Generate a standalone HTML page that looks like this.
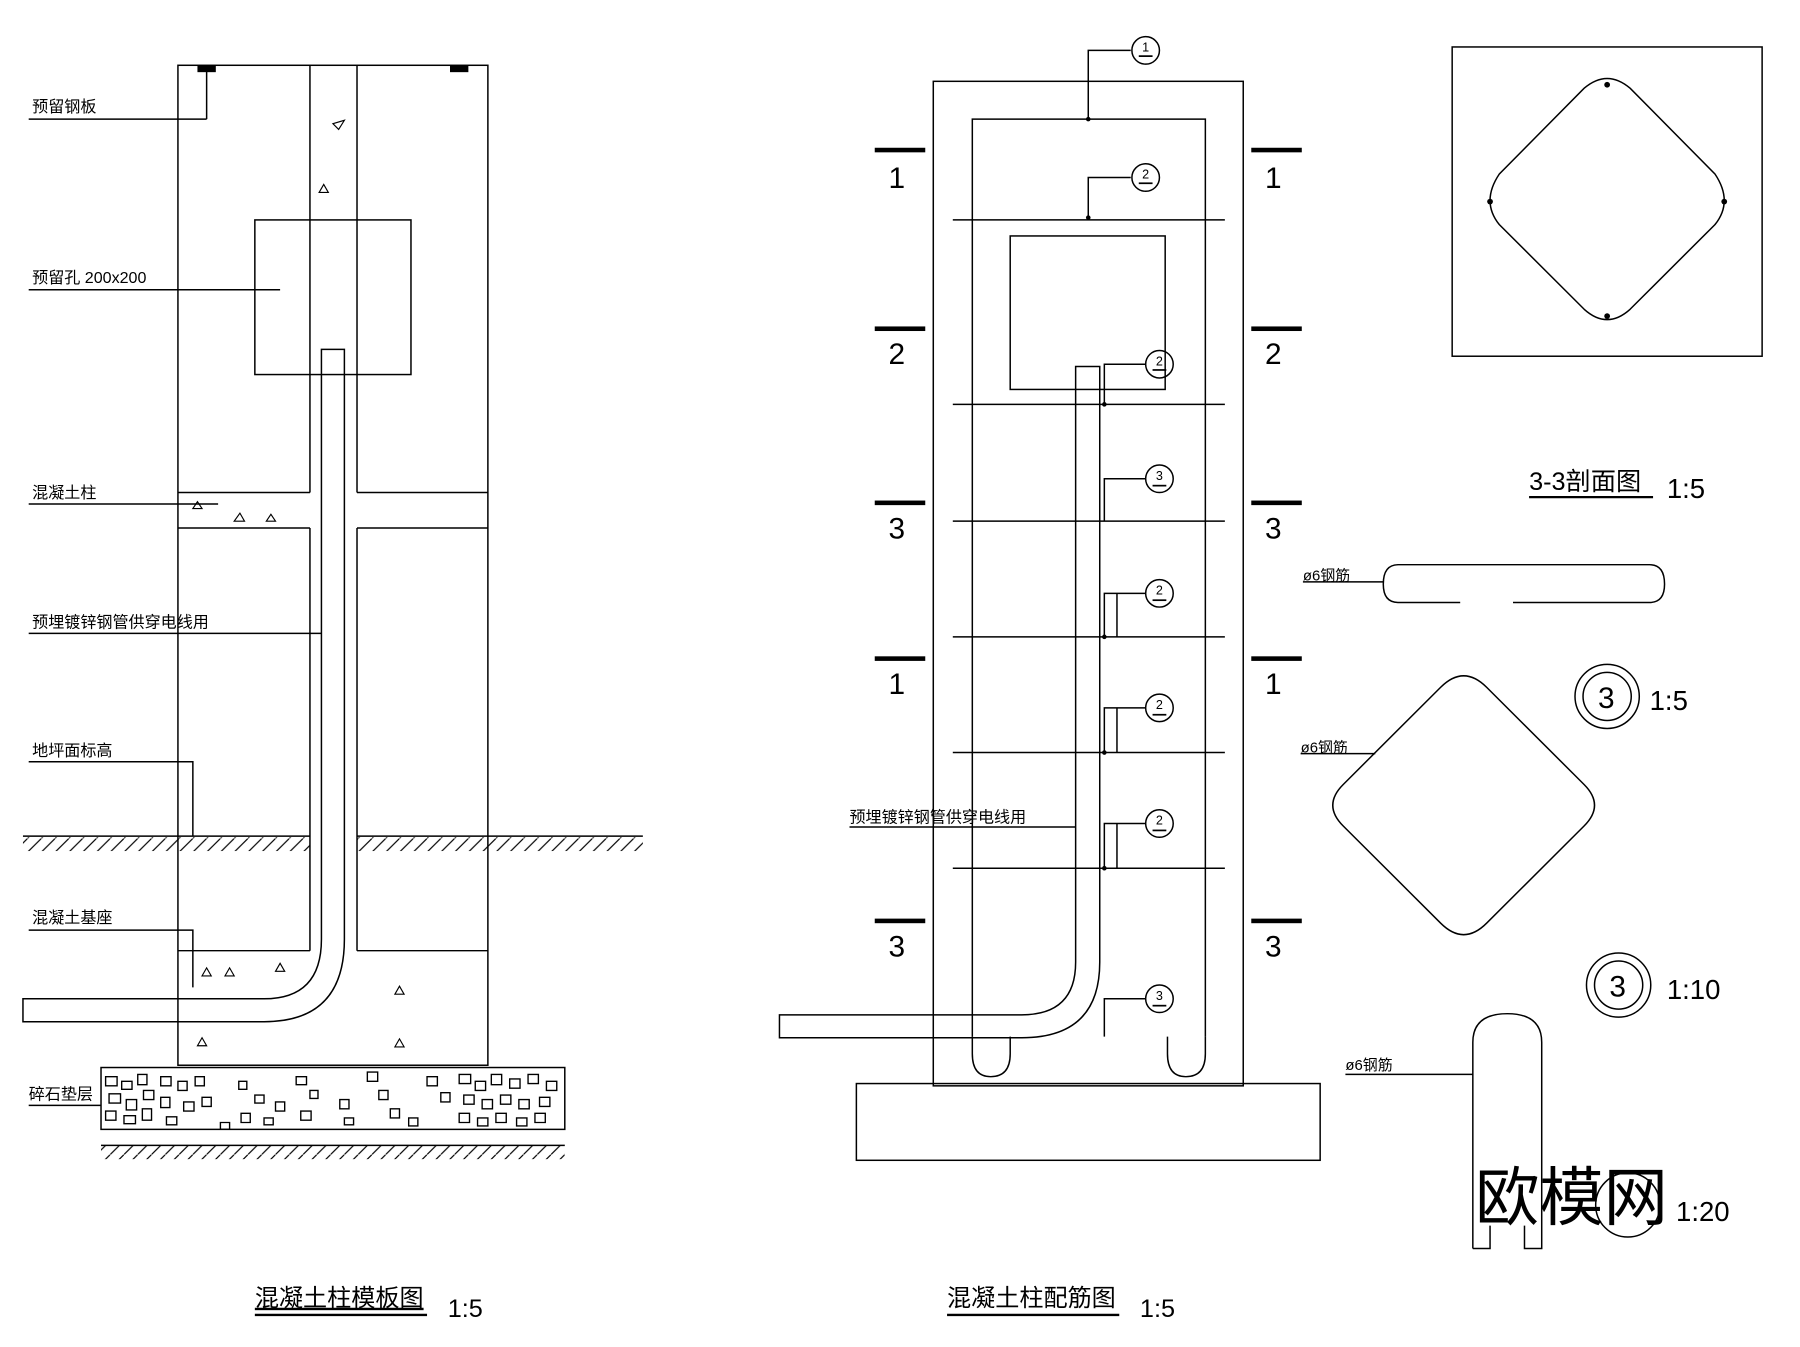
<!DOCTYPE html>
<html><head><meta charset="utf-8"><style>
html,body{margin:0;padding:0;background:#fff;}
svg{display:block}
text{font-family:"Liberation Sans","Noto Sans CJK SC",sans-serif;fill:#000}
</style></head><body>
<svg width="1800" height="1347" viewBox="0 0 1568 1176" preserveAspectRatio="none" xmlns="http://www.w3.org/2000/svg">
<defs>
<pattern id="h" width="12" height="12" patternUnits="userSpaceOnUse"><path d="M0 12 L12 0" stroke="#000" stroke-width="1"/></pattern>
</defs>
<g stroke="#000" stroke-width="1.3" fill="none">
<!-- LEFT -->
<rect x="155" y="57" width="270" height="873"/>
<line x1="270" y1="57" x2="270" y2="430"/><line x1="311" y1="57" x2="311" y2="430"/>
<line x1="270" y1="461" x2="270" y2="830"/><line x1="311" y1="461" x2="311" y2="830"/>
<line x1="155" y1="430" x2="270" y2="430"/><line x1="311" y1="430" x2="425" y2="430"/>
<line x1="155" y1="461" x2="270" y2="461"/><line x1="311" y1="461" x2="425" y2="461"/>
<line x1="155" y1="830" x2="270" y2="830"/><line x1="311" y1="830" x2="425" y2="830"/>
<rect x="222" y="192" width="136" height="135"/>
<path d="M280 305 H300 V820 Q300 892 230 892 H20 V872 H230 Q280 872 280 820 Z"/>
<line x1="20" y1="730" x2="270" y2="730"/><line x1="311" y1="730" x2="560" y2="730"/>
<rect x="20" y="731" width="250" height="12" fill="url(#h)" stroke="none"/>
<rect x="311" y="731" width="249" height="12" fill="url(#h)" stroke="none"/>
<rect x="88" y="932" width="404" height="54" fill="none"/>
<rect x="88" y="1000" width="404" height="12" fill="url(#h)" stroke="none"/>
<line x1="88" y1="1000" x2="492" y2="1000"/>
<!-- leaders left -->
<line x1="25" y1="104" x2="180" y2="104"/><line x1="180" y1="104" x2="180" y2="60"/>
<line x1="25" y1="253" x2="244" y2="253"/>
<line x1="25" y1="440" x2="190" y2="440"/>
<line x1="25" y1="553" x2="280" y2="553"/>
<polyline points="25,665 168,665 168,730"/>
<polyline points="25,812 168,812 168,862"/>
<line x1="25" y1="965" x2="88" y2="965"/>
</g>
<rect x="172" y="57" width="16" height="6" fill="#000"/><rect x="392" y="57" width="16" height="6" fill="#000"/>
<g fill="#000" font-size="13">
<path d="M290 108 l10 -3 l-5 8z" fill="none" stroke="#000"/>
<path d="M278 168 l8 0 l-4 -7z" fill="none" stroke="#000"/>
<path d="M168 444 l8 0 l-4 -6z M204 455 l9 0 l-4 -7z M232 455 l8 0 l-4 -6z M176 852 l8 0 l-4 -7z M196 852 l8 0 l-4 -7z M240 848 l8 0 l-4 -7z M344 868 l8 0 l-4 -7z M344 914 l8 0 l-4 -7z M172 913 l8 0 l-4 -7z" fill="none" stroke="#000"/>
</g>
<g fill="none" stroke="#000" stroke-width="1.2">
<path d="M92 940h10v8h-10z M106 944h9v7h-9z M120 938h8v9h-8z M95 955h10v8h-10z M110 960h9v9h-9z M125 952h9v8h-9z M92 970h9v8h-9z M108 974h10v7h-10z M124 968h8v10h-8z M140 940h9v8h-9z M155 944h8v8h-8z M140 958h8v9h-8z M160 962h9v8h-9z M145 975h9v7h-9z M170 940h8v8h-8z M176 958h8v8h-8z M208 944h7v7h-7z M222 956h8v7h-8z M210 972h8v8h-8z M240 962h8v8h-8z M258 940h9v7h-9z M270 952h7v7h-7z M262 970h9v8h-9z M296 960h8v8h-8z M320 936h9v8h-9z M330 952h8v8h-8z M340 968h8v8h-8z M356 976h8v7h-8z M372 940h9v8h-9z M384 954h8v8h-8z M400 938h10v8h-10z M414 944h9v8h-9z M428 938h9v9h-9z M444 942h9v8h-9z M460 938h9v8h-9z M476 944h9v8h-9z M404 956h9v8h-9z M420 960h9v8h-9z M436 956h9v8h-9z M452 960h9v8h-9z M470 958h9v8h-9z M400 972h9v8h-9z M416 976h9v7h-9z M432 972h9v8h-9z M450 976h9v7h-9z M466 972h9v8h-9z M192 986h8v-6h-8z M230 982h8v-6h-8z M300 982h8v-6h-8z"/>
</g>
<g font-size="14">
<text x="28" y="98">预留钢板</text>
<text x="28" y="247">预留孔 200x200</text>
<text x="28" y="435">混凝土柱</text>
<text x="28" y="548">预埋镀锌钢管供穿电线用</text>
<text x="28" y="660">地坪面标高</text>
<text x="28" y="806">混凝土基座</text>
<text x="25" y="960">碎石垫层</text>
</g>
<text x="222" y="1140" font-size="21" text-decoration="underline">混凝土柱模板图</text>
<line x1="222" y1="1148" x2="372" y2="1148" stroke="#000" stroke-width="2"/>
<text x="390" y="1150" font-size="22">1:5</text>

<!-- MIDDLE -->
<g stroke="#000" stroke-width="1.3" fill="none">
<rect x="813" y="71" width="270" height="877"/>
<path d="M847 905 V104 H1050 V905"/>
<path d="M847 905 V920 Q847 940 863 940 Q880 940 880 920 V905"/>
<path d="M1017 905 V920 Q1017 940 1033 940 Q1050 940 1050 920 V905"/>
<rect x="746" y="946" width="404" height="67"/>
<line x1="830" y1="192" x2="1067" y2="192"/>
<line x1="830" y1="353" x2="1067" y2="353"/>
<line x1="830" y1="455" x2="1067" y2="455"/>
<line x1="830" y1="556" x2="1067" y2="556"/>
<line x1="830" y1="657" x2="1067" y2="657"/>
<line x1="830" y1="758" x2="1067" y2="758"/>
<rect x="880" y="206" width="135" height="134"/>
<path d="M937 320 H958 V840 Q958 906 890 906 H679 V886 H890 Q937 886 937 840 Z"/>
<line x1="740" y1="722" x2="937" y2="722"/>
<polyline points="948,104 948,44 985,44"/>
<polyline points="948,190 948,155 985,155"/>
<polyline points="962,353 962,318 998,318"/>
<polyline points="962,455 962,418 998,418"/>
<polyline points="962,556 962,518 998,518"/><line x1="973" y1="518" x2="973" y2="556"/>
<polyline points="962,657 962,618 998,618"/><line x1="973" y1="618" x2="973" y2="657"/>
<polyline points="962,758 962,719 998,719"/><line x1="973" y1="719" x2="973" y2="758"/>
<polyline points="962,905 962,872 998,872"/>
<circle cx="998" cy="44" r="12"/><circle cx="998" cy="155" r="12"/><circle cx="1010" cy="318" r="12"/>
<circle cx="1010" cy="418" r="12"/><circle cx="1010" cy="518" r="12"/><circle cx="1010" cy="618" r="12"/>
<circle cx="1010" cy="719" r="12"/><circle cx="1010" cy="872" r="12"/>
</g>
<g fill="#000">
<circle cx="948" cy="104" r="2"/><circle cx="948" cy="190" r="2"/><circle cx="962" cy="353" r="2"/><circle cx="962" cy="556" r="2"/><circle cx="962" cy="657" r="2"/><circle cx="962" cy="758" r="2"/>
<rect x="762" y="129" width="44" height="4"/><rect x="1090" y="129" width="44" height="4"/>
<rect x="762" y="285" width="44" height="4"/><rect x="1090" y="285" width="44" height="4"/>
<rect x="762" y="437" width="44" height="4"/><rect x="1090" y="437" width="44" height="4"/>
<rect x="762" y="573" width="44" height="4"/><rect x="1090" y="573" width="44" height="4"/>
<rect x="762" y="802" width="44" height="4"/><rect x="1090" y="802" width="44" height="4"/>
</g>
<g font-size="11" text-anchor="middle">
<text x="998" y="45">1</text><text x="998" y="156">2</text><text x="1010" y="319">2</text><text x="1010" y="419">3</text>
<text x="1010" y="519">2</text><text x="1010" y="619">2</text><text x="1010" y="720">2</text><text x="1010" y="873">3</text>
</g>
<g stroke="#000" stroke-width="1.5">
<line x1="992" y1="49" x2="1004" y2="49"/><line x1="992" y1="160" x2="1004" y2="160"/><line x1="1004" y1="323" x2="1016" y2="323"/><line x1="1004" y1="424" x2="1016" y2="424"/><line x1="1004" y1="524" x2="1016" y2="524"/><line x1="1004" y1="624" x2="1016" y2="624"/><line x1="1004" y1="725" x2="1016" y2="725"/><line x1="1004" y1="878" x2="1016" y2="878"/>
</g>
<g font-size="26" font-family="Liberation Serif">
<text x="774" y="164">1</text><text x="1102" y="164">1</text>
<text x="774" y="318">2</text><text x="1102" y="318">2</text>
<text x="774" y="470">3</text><text x="1102" y="470">3</text>
<text x="774" y="606">1</text><text x="1102" y="606">1</text>
<text x="774" y="835">3</text><text x="1102" y="835">3</text>
</g>
<text x="740" y="718" font-size="14">预埋镀锌钢管供穿电线用</text>
<text x="825" y="1140" font-size="21">混凝土柱配筋图</text>
<line x1="825" y1="1148" x2="975" y2="1148" stroke="#000" stroke-width="2"/>
<text x="993" y="1150" font-size="22">1:5</text>

<!-- RIGHT -->
<g stroke="#000" stroke-width="1.3" fill="none">
<rect x="1265" y="41" width="270" height="270"/>
<path d="M1380 77 Q1400 60 1420 77 L1494 152 Q1510 176 1494 196 L1420 270 Q1400 288 1380 270 L1306 196 Q1290 176 1306 152 Z"/>
<path d="M1218 493 H1437 Q1450 493 1450 510 Q1450 526 1437 526 H1318 M1272 526 H1218 Q1205 526 1205 510 Q1205 493 1218 493"/>
<line x1="1135" y1="508" x2="1205" y2="508"/>
<path d="M1255 600 Q1275 580 1295 600 L1380 685 Q1398 703 1380 721 L1295 806 Q1275 826 1255 806 L1170 721 Q1152 703 1170 685 Z"/>
<line x1="1133" y1="658" x2="1198" y2="658"/>
<circle cx="1400" cy="608" r="28"/><circle cx="1400" cy="608" r="21"/>
<circle cx="1410" cy="860" r="28"/><circle cx="1410" cy="860" r="21"/>
<circle cx="1418" cy="1052" r="28"/>
<path d="M1283 1090 V910 Q1283 885 1313 885 Q1343 885 1343 910 V1090 H1328 V1070 M1298 1070 V1090 H1283"/>
<line x1="1172" y1="938" x2="1283" y2="938"/>
</g>
<g fill="#000"><circle cx="1400" cy="74" r="2.5"/><circle cx="1400" cy="276" r="2.5"/><circle cx="1298" cy="176" r="2.5"/><circle cx="1502" cy="176" r="2.5"/></g>
<text x="1332" y="428" font-size="22">3-3剖面图</text>
<line x1="1332" y1="434" x2="1440" y2="434" stroke="#000" stroke-width="2"/>
<text x="1452" y="435" font-size="24" font-family="Liberation Serif">1:5</text>
<text x="1135" y="507" font-size="13">ø6钢筋</text>
<text x="1133" y="657" font-size="13">ø6钢筋</text>
<text x="1172" y="934" font-size="13">ø6钢筋</text>
<text x="1392" y="618" font-size="26" font-family="Liberation Serif">3</text>
<text x="1437" y="620" font-size="24" font-family="Liberation Serif">1:5</text>
<text x="1402" y="870" font-size="26" font-family="Liberation Serif">3</text>
<text x="1452" y="872" font-size="24" font-family="Liberation Serif">1:10</text>
<text x="1460" y="1066" font-size="24" font-family="Liberation Serif">1:20</text>
<text x="1285" y="1065" font-size="56" fill="#333">欧模网</text>
</svg>
</body></html>
